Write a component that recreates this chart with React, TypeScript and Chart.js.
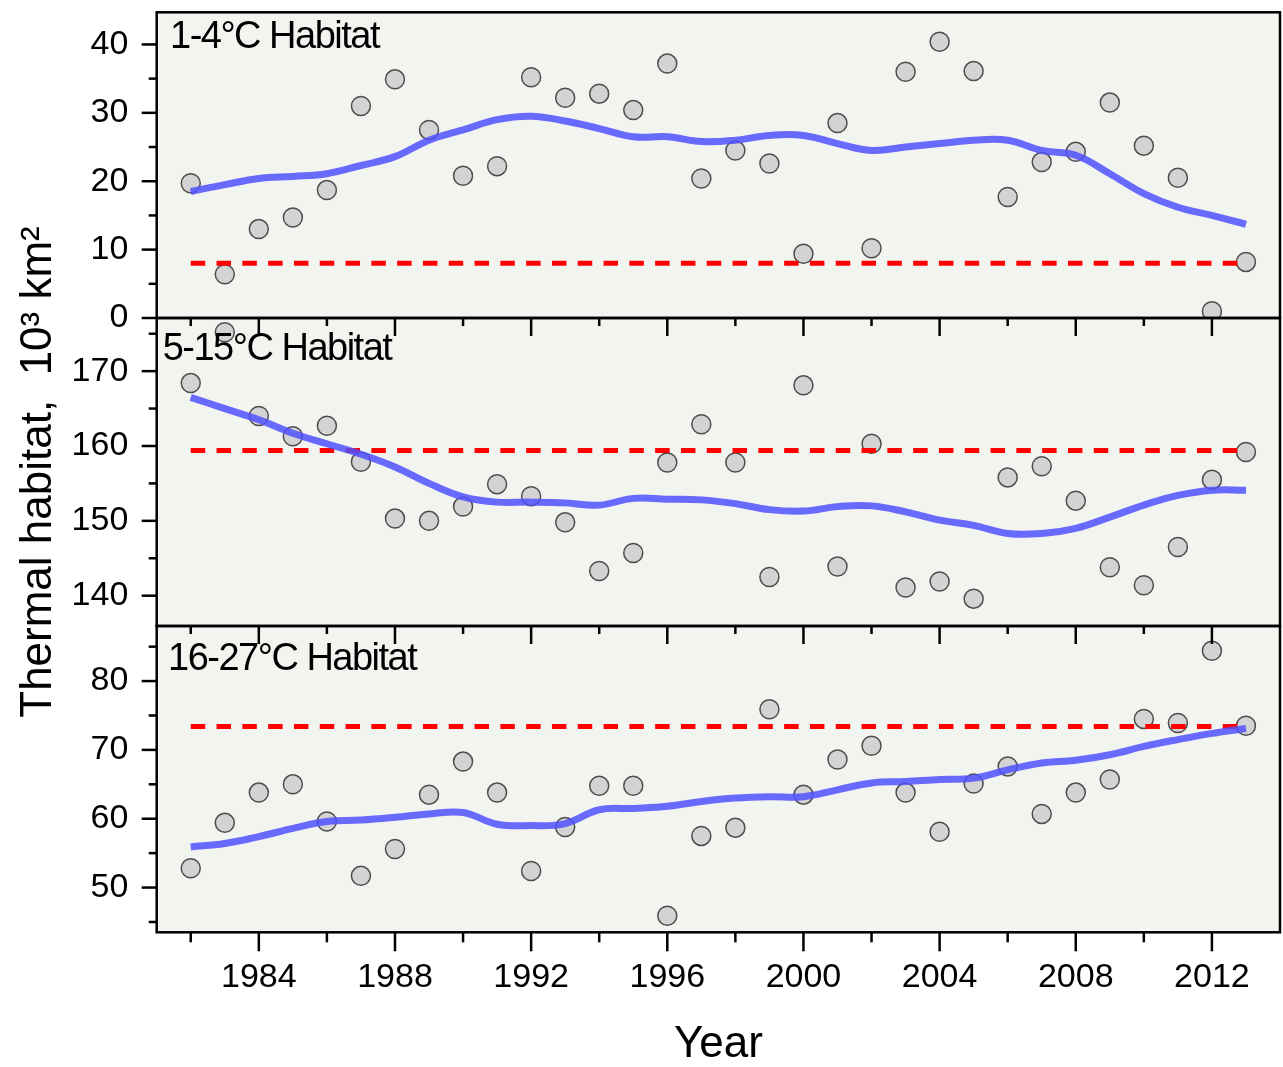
import React, { useEffect, useRef } from 'react';
import { Chart, registerables } from 'chart.js';

Chart.register(...registerables);

// ---------------- DATA ----------------
const years = [
  1982, 1983, 1984, 1985, 1986, 1987, 1988, 1989, 1990, 1991, 1992, 1993, 1994, 1995, 1996, 1997,
  1998, 1999, 2000, 2001, 2002, 2003, 2004, 2005, 2006, 2007, 2008, 2009, 2010, 2011, 2012, 2013,
];

const panelLabels = ['1-4°C Habitat', '5-15°C Habitat', '16-27°C Habitat'];

// 1-4°C habitat (10^3 km2)
const cold = [
  19.7, 6.4, 13.0, 14.7, 18.7, 31.0, 34.9, 27.5, 20.8, 22.2, 35.2, 32.2, 32.8, 30.4, 37.2, 20.4,
  24.5, 22.6, 9.4, 28.5, 10.2, 36.0, 40.4, 36.1, 17.7, 22.8, 24.3, 31.5, 25.2, 20.5, 1.0, 8.2,
];
const coldTrend = [
  18.5, 19.5, 20.4, 20.7, 21.1, 22.3, 23.6, 26.0, 27.5, 29.0, 29.5, 28.8, 27.7, 26.5, 26.5, 25.8,
  26.0, 26.7, 26.7, 25.5, 24.5, 25.0, 25.5, 26.0, 26.0, 24.5, 23.8, 21.1, 18.2, 16.2, 15.0, 13.7,
];
const coldMean = 8.0;

// 5-15°C habitat
const mid = [
  168.4, 175.2, 164.0, 161.3, 162.7, 157.9, 150.3, 150.0, 151.9, 154.9, 153.3, 149.8, 143.3, 145.7, 157.8, 162.9,
  157.8, 142.5, 168.1, 143.9, 160.3, 141.1, 141.9, 139.6, 155.8, 157.3, 152.7, 143.8, 141.4, 146.5, 155.5, 159.2,
];
const midTrend = [
  166.5, 165.0, 163.5, 161.7, 160.3, 158.9, 157.2, 155.0, 153.2, 152.5, 152.5, 152.4, 152.1, 153.0, 152.9, 152.8,
  152.3, 151.5, 151.3, 151.9, 152.0, 151.2, 150.1, 149.4, 148.3, 148.3, 149.0, 150.5, 152.1, 153.4, 154.1, 154.1,
];
const midMean = 159.4;

// 16-27°C habitat
const warm = [
  52.8, 59.4, 63.8, 65.0, 59.6, 51.7, 55.6, 63.5, 68.3, 63.8, 52.4, 58.8, 64.8, 64.8, 45.9, 57.5,
  58.7, 75.9, 63.5, 68.6, 70.6, 63.8, 58.1, 65.1, 67.6, 60.7, 63.8, 65.7, 74.5, 73.9, 84.4, 73.5,
];
const warmTrend = [
  55.9, 56.4, 57.4, 58.6, 59.6, 59.8, 60.2, 60.7, 60.9, 59.2, 59.0, 59.3, 61.3, 61.5, 61.8, 62.5,
  63.0, 63.2, 63.2, 64.2, 65.2, 65.4, 65.7, 65.9, 67.1, 68.1, 68.5, 69.3, 70.5, 71.5, 72.4, 73.1,
];
const warmMean = 73.4;

// tick labels
const xMajorTicks = [1984, 1988, 1992, 1996, 2000, 2004, 2008, 2012];
const xMinorTicks = [1982, 1986, 1990, 1994, 1998, 2002, 2006, 2010];
const coldMajorTicks = [0, 10, 20, 30, 40];
const coldMinorTicks = [5, 15, 25, 35];
const midMajorTicks = [140, 150, 160, 170];
const midMinorTicks = [145, 155, 165, 175];
const warmMajorTicks = [50, 60, 70, 80];
const warmMinorTicks = [45, 55, 65, 75, 85];

const xTitle = 'Year';
const yTitle = 'Thermal habitat,  10³ km²';

// ---------------- STYLE ----------------
const FONT = "'Liberation Sans', Arial, Helvetica, sans-serif";
const W = 1283;
const H = 1067;
const AXIS_W = 156.7;
const PANEL_BG = '#f2f5ef';
const POINT_BG = '#d3d3d3';
const POINT_BORDER = '#4d4d4d';
const TREND_COLOR = 'rgba(80,80,255,0.85)';
const MEAN_COLOR = '#ff0000';

const panels = [
  { id: 'yTop', label: panelLabels[0], majors: coldMajorTicks, minors: coldMinorTicks, labelX: 170, labelDy: 35.7, innerTicks: false },
  { id: 'yMid', label: panelLabels[1], majors: midMajorTicks, minors: midMinorTicks, labelX: 162.7, labelDy: 42, innerTicks: true },
  { id: 'yBot', label: panelLabels[2], majors: warmMajorTicks, minors: warmMinorTicks, labelX: 168, labelDy: 44, innerTicks: true },
];

const toXY = (vals: number[]) => vals.map((v, i) => ({ x: years[i], y: v }));
const meanLine = (v: number) => [
  { x: years[0], y: v },
  { x: years[years.length - 1], y: v },
];

function pointsDs(vals: number[], axis: string) {
  return {
    data: toXY(vals),
    yAxisID: axis,
    xAxisID: 'x',
    showLine: false,
    pointRadius: 9.5,
    pointBackgroundColor: POINT_BG,
    pointBorderColor: POINT_BORDER,
    pointBorderWidth: 1.5,
    order: 3,
  };
}
function trendDs(vals: number[], axis: string) {
  return {
    data: toXY(vals),
    yAxisID: axis,
    xAxisID: 'x',
    showLine: true,
    pointRadius: 0,
    borderColor: TREND_COLOR,
    borderWidth: 7,
    tension: 0.4,
    fill: false,
    order: 1,
  };
}
function meanDs(v: number, axis: string) {
  return {
    data: meanLine(v),
    yAxisID: axis,
    xAxisID: 'x',
    showLine: true,
    pointRadius: 0,
    borderColor: MEAN_COLOR,
    borderWidth: 5,
    borderDash: [14.5, 11.3],
    borderCapStyle: 'butt',
    fill: false,
    order: 2,
  };
}

function yScale(min: number, max: number, majors: number[], weight: number, withTitle: boolean) {
  return {
    type: 'linear',
    position: 'left',
    stack: 'panels',
    stackWeight: weight,
    min,
    max,
    afterBuildTicks: (s: any) => {
      s.ticks = majors.map((v) => ({ value: v }));
    },
    afterFit: (s: any) => {
      s.width = AXIS_W;
      s.paddingTop = 0;
      s.paddingBottom = 0;
      s.paddingLeft = 0;
      s.paddingRight = 0;
    },
    ticks: {
      autoSkip: false,
      padding: 13.4,
      color: '#000',
      font: { family: FONT, size: 34 },
      callback: (v: any) => String(v),
    },
    grid: { display: true, drawOnChartArea: false, drawTicks: true, tickLength: 15, tickColor: 'rgba(0,0,0,0)' },
    border: { display: false },
    title: withTitle
      ? {
          display: true,
          text: yTitle,
          color: '#000',
          font: { family: FONT, size: 44, lineHeight: 1.2 },
          padding: { top: 12, bottom: 0 },
        }
      : { display: false },
  };
}

const decorPlugin = {
  id: 'panelDecor',
  beforeDraw(chart: any) {
    const ctx = chart.ctx;
    const area = chart.chartArea;
    ctx.save();
    ctx.fillStyle = PANEL_BG;
    for (const p of panels) {
      const s = chart.scales[p.id];
      ctx.fillRect(area.left, s.top, area.right - area.left, s.bottom - s.top);
    }
    ctx.restore();
  },
  afterDraw(chart: any) {
    const ctx = chart.ctx;
    const area = chart.chartArea;
    const xs = chart.scales.x;
    ctx.save();
    ctx.strokeStyle = '#000';
    ctx.lineWidth = 2.5;
    ctx.lineCap = 'butt';
    const line = (x1: number, y1: number, x2: number, y2: number) => {
      ctx.beginPath();
      ctx.moveTo(x1, y1);
      ctx.lineTo(x2, y2);
      ctx.stroke();
    };
    for (const p of panels) {
      const s = chart.scales[p.id];
      for (const v of p.majors) {
        const y = s.getPixelForValue(v);
        line(area.left - 15, y, area.left, y);
      }
      for (const v of p.minors) {
        const y = s.getPixelForValue(v);
        line(area.left - 8, y, area.left, y);
      }
      if (p.innerTicks) {
        for (const v of xMajorTicks) {
          const x = xs.getPixelForValue(v);
          line(x, s.top, x, s.top + 18);
        }
        for (const v of xMinorTicks) {
          const x = xs.getPixelForValue(v);
          line(x, s.top, x, s.top + 8);
        }
      }
      ctx.strokeRect(area.left, s.top, area.right - area.left, s.bottom - s.top);
    }
    for (const v of xMajorTicks) {
      const x = xs.getPixelForValue(v);
      line(x, area.bottom, x, area.bottom + 19);
    }
    for (const v of xMinorTicks) {
      const x = xs.getPixelForValue(v);
      line(x, area.bottom, x, area.bottom + 10);
    }
    ctx.fillStyle = '#000';
    ctx.font = `38px ${FONT}`;
    ctx.textBaseline = 'alphabetic';
    ctx.textAlign = 'left';
    try {
      (ctx as any).letterSpacing = '-1.5px';
    } catch (e) {}
    for (const p of panels) {
      const s = chart.scales[p.id];
      ctx.fillText(p.label, p.labelX, s.top + p.labelDy);
    }
    ctx.restore();
  },
};

export default function App() {
  const ref = useRef<HTMLCanvasElement>(null);
  useEffect(() => {
    if (!ref.current) return;
    const chart = new Chart(ref.current, {
      type: 'scatter',
      data: {
        datasets: [
          trendDs(coldTrend, 'yTop'),
          meanDs(coldMean, 'yTop'),
          pointsDs(cold, 'yTop'),
          trendDs(midTrend, 'yMid'),
          meanDs(midMean, 'yMid'),
          pointsDs(mid, 'yMid'),
          trendDs(warmTrend, 'yBot'),
          meanDs(warmMean, 'yBot'),
          pointsDs(warm, 'yBot'),
        ] as any,
      },
      options: {
        responsive: false,
        animation: false,
        devicePixelRatio: 1,
        layout: { autoPadding: false, padding: { top: 12.3, right: 3, bottom: 0, left: 0 } },
        plugins: { legend: { display: false }, tooltip: { enabled: false } },
        events: [],
        scales: {
          x: {
            type: 'linear',
            position: 'bottom',
            min: 1981,
            max: 2014,
            afterBuildTicks: (s: any) => {
              s.ticks = xMajorTicks.map((v) => ({ value: v }));
            },
            afterFit: (s: any) => {
              s.height = H - 932.3;
              s.paddingLeft = 0;
              s.paddingRight = 0;
            },
            ticks: {
              autoSkip: false,
              maxRotation: 0,
              padding: 6,
              color: '#000',
              font: { family: FONT, size: 34 },
              callback: (v: any) => String(v),
            },
            grid: { display: true, drawOnChartArea: false, drawTicks: true, tickLength: 19, tickColor: 'rgba(0,0,0,0)' },
            border: { display: false },
            title: {
              display: true,
              text: xTitle,
              color: '#000',
              font: { family: FONT, size: 44, lineHeight: 1.0 },
              padding: { top: 0, bottom: 0 },
            },
          },
          yBot: yScale(43.5, 88.0, warmMajorTicks, 306.3, false),
          yMid: yScale(135.95, 177.1, midMajorTicks, 308, true),
          yTop: yScale(0, 44.7, coldMajorTicks, 305.7, false),
        } as any,
      },
      plugins: [decorPlugin],
    } as any);
    return () => chart.destroy();
  }, []);
  return (
    <div style={{ position: 'fixed', left: 0, top: 0, width: W, height: H, background: '#fff' }}>
      <canvas ref={ref} width={W} height={H} style={{ width: W, height: H, display: 'block' }} />
    </div>
  );
}
